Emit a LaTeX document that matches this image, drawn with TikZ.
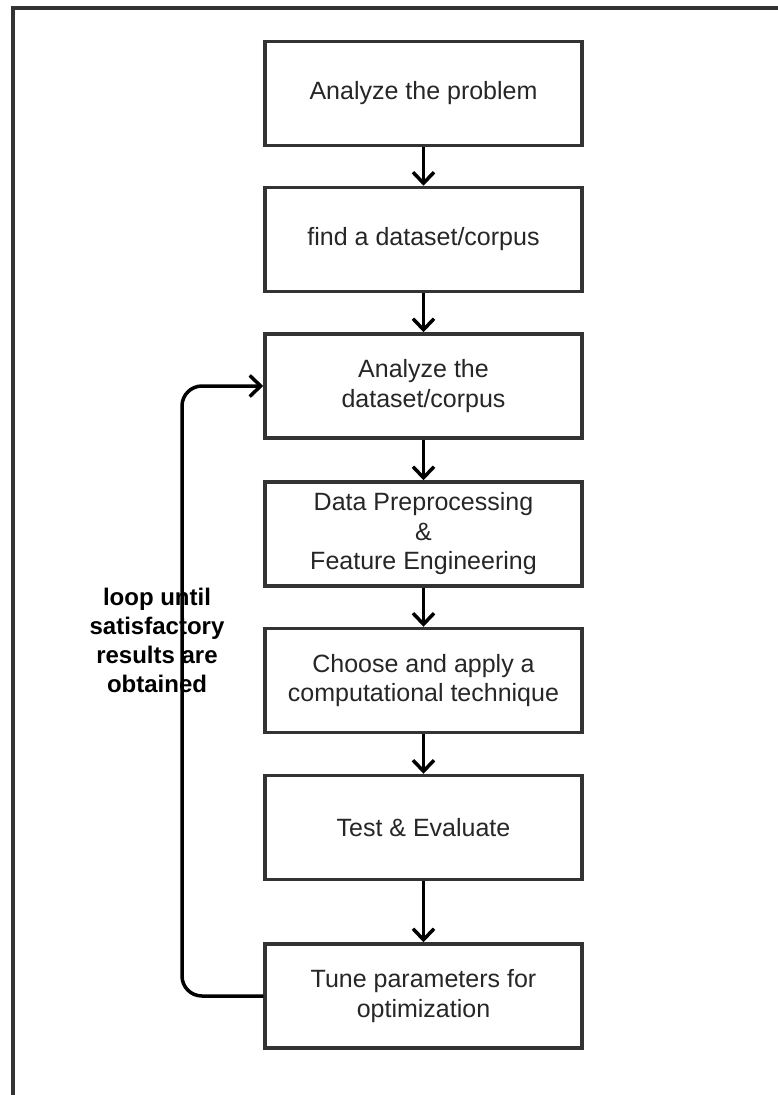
\documentclass[tikz,border=0pt]{standalone}
\usepackage{fontspec}
\setmainfont{Liberation Sans}
\usetikzlibrary{arrows.meta}
\definecolor{frame}{HTML}{333333}
\definecolor{txt}{HTML}{262626}
\tikzset{
  stepbox/.style={draw=frame, line width=3.5pt, minimum width=317pt, minimum height=104pt,
    inner sep=0pt, align=center, text=txt, font=\fontsize{25}{29.5}\selectfont},
  flow/.style={draw=black, line width=3.5pt,
    -{Straight Barb[length=11pt,width=21pt,line width=3.5pt]}},
}
\begin{document}
\begin{tikzpicture}[x=1pt,y=-1pt]
  \useasboundingbox (0,0) rectangle (778,1095);
  \fill[white] (0,0) rectangle (778,1095);
  % outer frame (continues past the page on the right and bottom)
  \draw[frame, line width=4pt] (13,1095) -- (13,8) -- (778,8);

  \node[stepbox] (s1) at (423.5,93.5) {Analyze the problem};
  \node[stepbox] (s2) at (423.5,239.5) {find a dataset/corpus};
  \node[stepbox] (s3) at (423.5,386) {Analyze the\\dataset/corpus};
  \node[stepbox] (s4) at (423.5,534) {Data Preprocessing\\ \&\\ Feature Engineering};
  \node[stepbox] (s5) at (423.5,680.5) {Choose and apply a\\computational technique};
  \node[stepbox] (s6) at (423.5,827.5) {Test \& Evaluate};
  \node[stepbox] (s7) at (423.5,996) {Tune parameters for\\optimization};

  \draw[flow] (s1) -- (s2);
  \draw[flow] (s2) -- (s3);
  \draw[flow] (s3) -- (s4);
  \draw[flow] (s4) -- (s5);
  \draw[flow] (s5) -- (s6);
  \draw[flow] (s6) -- (s7);

  % feedback loop
  \coordinate (lb) at (182,996);
  \coordinate (lt) at (182,386);
  \draw[flow, rounded corners=20pt] (s7.west) -- (lb) -- (lt) -- (s3.west);

  \node[align=center, font=\bfseries\fontsize{24}{29}\selectfont, text=black] (lbl) at (157,640)
    {loop until\\satisfactory\\results are\\obtained};
\end{tikzpicture}
\end{document}
